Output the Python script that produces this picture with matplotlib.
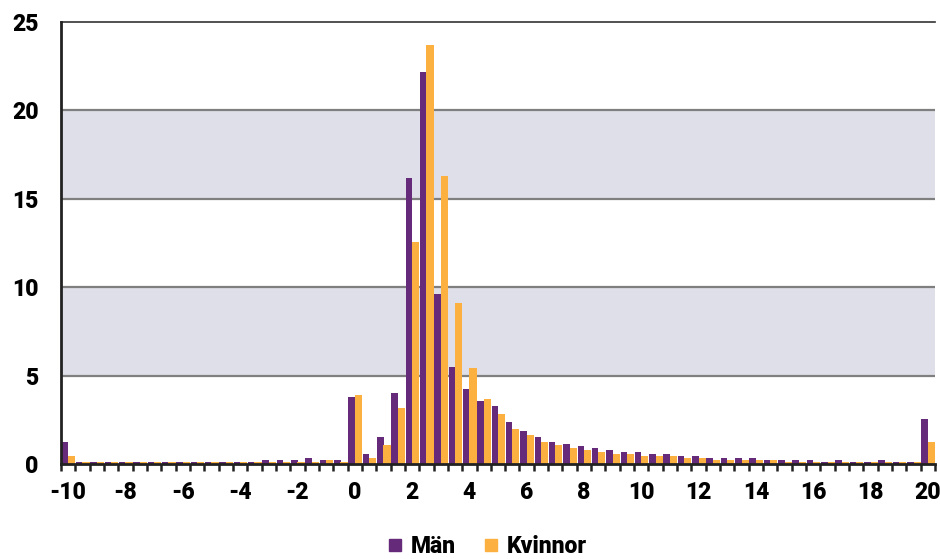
import matplotlib
matplotlib.use('Agg')
import matplotlib.pyplot as plt
from matplotlib.lines import Line2D
import numpy as np

# categories: -10 .. 20 in half-unit steps
categories = np.arange(-10, 20.5, 0.5)

man = [1.27, 0.1, 0.1, 0.1, 0.1, 0.1, 0.1, 0.1, 0.1, 0.1, 0.1, 0.1, 0.1, 0.1,
       0.21, 0.21, 0.21, 0.33, 0.21, 0.21,
       3.78, 0.59, 1.53, 4.02, 16.2, 22.15, 9.6, 5.46, 4.27, 3.55,
       3.3, 2.36, 1.88, 1.52, 1.27, 1.14, 1.03, 0.92, 0.8, 0.69,
       0.69, 0.58, 0.58, 0.44, 0.44, 0.33, 0.33, 0.33, 0.33, 0.21,
       0.21, 0.21, 0.21, 0.1, 0.21, 0.1, 0.1, 0.21, 0.1, 0.1,
       2.57]

kvinnor = [0.44, 0.1, 0.1, 0.1, 0.1, 0.1, 0.1, 0.1, 0.1, 0.1, 0.1, 0.1, 0.1, 0.1,
           0.1, 0.1, 0.1, 0.1, 0.21, 0.1,
           3.9, 0.35, 1.06, 3.19, 12.55, 23.7, 16.3, 9.1, 5.45, 3.66,
           2.84, 2.0, 1.65, 1.27, 1.05, 0.93, 0.82, 0.69, 0.58, 0.58,
           0.44, 0.44, 0.44, 0.33, 0.33, 0.21, 0.21, 0.21, 0.21, 0.21,
           0.1, 0.1, 0.1, 0.1, 0.1, 0.1, 0.1, 0.1, 0.1, 0.1,
           1.27]

xtick_labels = ['-10', '-8', '-6', '-4', '-2', '0', '2', '4', '6', '8',
                '10', '12', '14', '16', '18', '20']
yticks = [0, 5, 10, 15, 20, 25]

PURPLE = '#662a7a'
ORANGE = '#fbb040'
BAND = '#dfdfe9'
FONT = dict(family='Roboto', weight='heavy', stretch='condensed', size=16.5)

fig = plt.figure(figsize=(9.4, 5.59), dpi=100)
ax = fig.add_axes([61/940, 95/559, 874/940, 442/559])

idx = np.arange(len(categories))
ax.set_xlim(-0.5, len(categories) - 0.5)
ax.set_ylim(0, 25)

# shaded bands and grid lines
for lo, hi in [(5, 10), (15, 20)]:
    ax.axhspan(lo, hi, color=BAND, lw=0, zorder=0)
for y in [5, 10, 15, 20]:
    ax.axhline(y, color='#7f7f7f', lw=1.6, zorder=1)
ax.axhline(25, color='#333333', lw=1.2, zorder=1, clip_on=False)

# bars
ax.bar(idx - 0.22, man, width=0.46, color=PURPLE, zorder=2, label='Män')
ax.bar(idx + 0.25, kvinnor, width=0.5, color=ORANGE, zorder=2, label='Kvinnor')

# spines
for s in ['top', 'right']:
    ax.spines[s].set_visible(False)
for s in ['left', 'bottom']:
    ax.spines[s].set_linewidth(2)
    ax.spines[s].set_color('#222222')

# ticks: marks at category borders, labels every 4th category
ax.set_xticks(np.arange(-0.5, len(categories), 1.0), minor=True)
ax.set_xticks(idx[::4])
ax.set_xticklabels(xtick_labels, fontdict=FONT)
ax.tick_params(axis='x', which='major', length=0, pad=12)
ax.tick_params(axis='x', which='minor', length=5, width=1.8, color='#222222', direction='out')
ax.set_yticks(yticks)
ax.set_yticklabels([str(v) for v in yticks], fontdict=FONT)
ax.tick_params(axis='y', length=0, pad=16)

# legend
handles = [Line2D([], [], marker='s', ls='', color=PURPLE, markersize=9),
           Line2D([], [], marker='s', ls='', color=ORANGE, markersize=9)]
fig.legend(handles, ['Män', 'Kvinnor'], loc='lower center', bbox_to_anchor=(0.515, -0.035),
           ncol=2, frameon=False, handletextpad=0.1, columnspacing=0.9,
           handlelength=1.2, prop=FONT)

fig.savefig('out.png', dpi=100)
